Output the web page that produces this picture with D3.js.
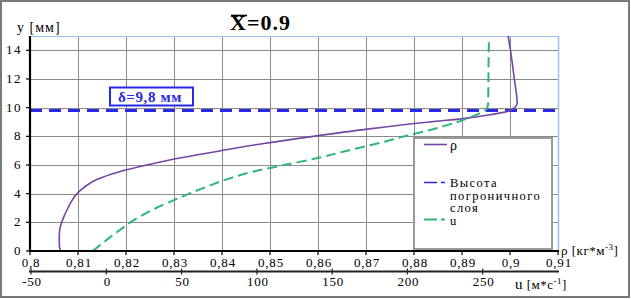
<!DOCTYPE html>
<html>
<head>
<meta charset="utf-8">
<script src="https://cdn.jsdelivr.net/npm/d3@7"></script>
<style>
  html, body { margin: 0; padding: 0; background: #fff; font-family: "Liberation Serif", "DejaVu Serif", serif; }
  svg { display: block; }
  svg text { font-family: "Liberation Serif", "DejaVu Serif", serif !important; }
</style>
</head>
<body>
<svg id="chart" width="631" height="299"></svg>
<script>
// ---- data ----
const rhoY    = [0, 0.5, 1.0, 1.5, 2.0, 2.5, 3.0, 3.5, 4.0, 4.5, 5.0, 5.5, 6.0, 6.5, 7.0, 7.5, 8.0, 8.5, 9.0, 9.25, 9.5, 9.8, 10.3, 12, 14, 15];
const rhoVals = [0.8063, 0.8061, 0.8061, 0.8062, 0.8066, 0.8072, 0.8079, 0.8087, 0.8098, 0.8115, 0.8140, 0.8183, 0.8243, 0.8315, 0.8398, 0.8487, 0.8590, 0.8702, 0.8832, 0.8906, 0.8958, 0.9000, 0.9015, 0.9009, 0.9001, 0.8996];
const uY      = [0, 0.5, 1.0, 1.5, 2.0, 2.5, 3.0, 3.55, 4.0, 4.5, 5.0, 5.5, 6.0, 6.5, 7.0, 7.5, 8.0, 8.5, 9.0, 9.3, 9.6, 9.8, 10.0, 10.3, 12, 14, 14.8];
const uVals   = [-9, -3, 3, 9.5, 16, 24, 33, 45, 55, 67, 80, 96, 118, 141, 160, 180, 198, 217, 233, 241, 248, 251.5, 253, 253.6, 253.8, 254, 254.2];
const deltaValue = 9.8;
const yTicks   = [0, 2, 4, 6, 8, 10, 12, 14];
const rhoTicks = [0.8, 0.81, 0.82, 0.83, 0.84, 0.85, 0.86, 0.87, 0.88, 0.89, 0.9, 0.91];
const uTicks   = [-50, 0, 50, 100, 150, 200, 250];
const legendItems = [
  { key: "rho",   lines: ["ρ"] },
  { key: "delta", lines: ["Высота", "погроничного", "слоя"] },
  { key: "u",     lines: ["u"] }
];

// ---- layout ----
const FONT = "'Liberation Serif', 'DejaVu Serif', serif";
const svg = d3.select("#chart");
const L = 30, R = 558, T = 36, B = 251;
const x = d3.scaleLinear().domain([0.8, 0.91]).range([L, R]);
const y = d3.scaleLinear().domain([0, 15]).range([B, T]);
const xu = d3.scaleLinear().domain([-50, 300]).range([31, R]);

const purple = "#7346A6", green = "#2FB57A", blue = "#2A2AE6";

// outer frame
svg.append("rect").attr("x", 1).attr("y", 1).attr("width", 628).attr("height", 296)
  .attr("fill", "#fff").attr("stroke", "#7a7a7a").attr("stroke-width", 2);

// grid
const grid = svg.append("g");
grid.selectAll("line.v").data(rhoTicks.filter(d => d > 0.8 && d < 0.905)).join("line")
  .attr("x1", d => Math.round(x(d)) + 0.5).attr("x2", d => Math.round(x(d)) + 0.5)
  .attr("y1", T).attr("y2", B).attr("stroke", "#8a8a8a").attr("stroke-width", 1);
grid.selectAll("line.h").data(yTicks.filter(d => d > 0)).join("line")
  .attr("y1", d => Math.round(y(d)) + 0.5).attr("y2", d => Math.round(y(d)) + 0.5)
  .attr("x1", L).attr("x2", R).attr("stroke", "#8a8a8a").attr("stroke-width", 1);
// light blue top/right border
svg.append("line").attr("x1", L).attr("x2", R + 1).attr("y1", y(15) + 0.5).attr("y2", y(15) + 0.5)
  .attr("stroke", "#9cc2e8").attr("stroke-width", 1);
svg.append("line").attr("x1", x(0.91) + 0.5).attr("x2", x(0.91) + 0.5).attr("y1", T).attr("y2", B)
  .attr("stroke", "#9cc2e8").attr("stroke-width", 1.5);

// legend box
const lg = svg.append("g");
lg.append("rect").attr("x", x(0.88)).attr("y", 138).attr("width", 552 - x(0.88)).attr("height", 111)
  .attr("fill", "#fff").attr("stroke", "#9a9a9a").attr("stroke-width", 2);

// delta line
svg.append("line").attr("x1", L).attr("x2", R + 2).attr("y1", y(deltaValue)).attr("y2", y(deltaValue))
  .attr("stroke", blue).attr("stroke-width", 3).attr("stroke-dasharray", "12,7");

// curves
const rhoLine = d3.line().x(d => x(d[0])).y(d => y(d[1])).curve(d3.curveMonotoneY);
svg.append("path").datum(rhoVals.map((v, i) => [v, rhoY[i]]))
  .attr("d", rhoLine).attr("fill", "none").attr("stroke", purple).attr("stroke-width", 1.6);
const uLine = d3.line().x(d => xu(d[0])).y(d => y(d[1])).curve(d3.curveMonotoneY);
svg.append("path").datum(uVals.map((v, i) => [v, uY[i]]))
  .attr("d", uLine).attr("fill", "none").attr("stroke", green).attr("stroke-width", 2)
  .attr("stroke-dasharray", "10,5");

// axes lines
svg.append("line").attr("x1", L).attr("x2", L).attr("y1", T).attr("y2", B + 1)
  .attr("stroke", "#000").attr("stroke-width", 2.2);
svg.append("line").attr("x1", L - 1).attr("x2", R + 1).attr("y1", B).attr("y2", B)
  .attr("stroke", "#000").attr("stroke-width", 2.2);

// y ticks & labels
const yAx = svg.append("g");
yAx.selectAll("line").data(yTicks).join("line")
  .attr("x1", L - 4).attr("x2", L).attr("y1", d => y(d)).attr("y2", d => y(d))
  .attr("stroke", "#000").attr("stroke-width", 1.2);
yAx.selectAll("text").data(yTicks).join("text")
  .attr("x", 22).attr("y", d => y(d) + 4).attr("text-anchor", "end")
  .attr("font-size", 13).attr("letter-spacing", 1.5).text(d => d);

// rho ticks & labels
const xAx = svg.append("g");
xAx.selectAll("line").data(rhoTicks).join("line")
  .attr("x1", d => x(d)).attr("x2", d => x(d)).attr("y1", B).attr("y2", B + 4)
  .attr("stroke", "#000").attr("stroke-width", 1.2);
xAx.selectAll("text").data(rhoTicks).join("text")
  .attr("x", d => x(d) + 1).attr("y", 267).attr("text-anchor", "middle")
  .attr("font-size", 13).attr("letter-spacing", 0.8)
  .text(d => d3.format("~g")(d).replace(".", ","));

// u axis
const uy = 271.5;
svg.append("line").attr("x1", 29).attr("x2", R + 1).attr("y1", uy).attr("y2", uy)
  .attr("stroke", "#222").attr("stroke-width", 1.8);
const uAx = svg.append("g");
uAx.selectAll("line").data(uTicks).join("line")
  .attr("x1", d => xu(d)).attr("x2", d => xu(d)).attr("y1", uy - 3).attr("y2", uy + 3)
  .attr("stroke", "#222").attr("stroke-width", 1.2);
uAx.selectAll("text").data(uTicks).join("text")
  .attr("x", d => xu(d) + 1).attr("y", 286).attr("text-anchor", "middle")
  .attr("font-size", 13).attr("letter-spacing", 0.8).text(d => d);

// axis titles
svg.append("text").attr("x", 17).attr("y", 32).attr("font-size", 14).attr("letter-spacing", 1).text("y [мм]");
const rt = svg.append("text").attr("x", 561).attr("y", 255).attr("font-size", 13).attr("letter-spacing", 0.5);
rt.append("tspan").text("ρ [кг*м");
rt.append("tspan").attr("dy", -5).attr("font-size", 9).text("-3");
rt.append("tspan").attr("dy", 5).text("]");
const ut = svg.append("text").attr("x", 515).attr("y", 289).attr("font-size", 13).attr("letter-spacing", 0.5);
ut.append("tspan").attr("font-size", 15).text("u");
ut.append("tspan").text(" [м*с");
ut.append("tspan").attr("dy", -5).attr("font-size", 9).text("-1");
ut.append("tspan").attr("dy", 5).text("]");

// title X̄=0.9
svg.append("text").attr("x", 230).attr("y", 30).attr("font-size", 22).attr("font-weight", "bold")
  .attr("letter-spacing", 1).text("X=0.9");
svg.append("line").attr("x1", 231).attr("x2", 247).attr("y1", 15.5).attr("y2", 15.5)
  .attr("stroke", "#000").attr("stroke-width", 1.6);

// delta label box
svg.append("rect").attr("x", 110).attr("y", 87.5).attr("width", 83).attr("height", 18)
  .attr("fill", "#fff").attr("stroke", blue).attr("stroke-width", 2);
svg.append("text").attr("x", 150).attr("y", 101.5).attr("text-anchor", "middle")
  .attr("font-size", 15).attr("font-weight", "bold").attr("fill", blue).attr("letter-spacing", 0.6)
  .text("δ=" + String(deltaValue).replace(".", ",") + " мм");

// legend entries
const styles = {
  rho:   { stroke: purple, dash: null, w: 1.6, ly: 144.5 },
  delta: { stroke: blue,   dash: "13,4,4", w: 1.6, ly: 182.5 },
  u:     { stroke: green,  dash: "13,4,4", w: 1.8, ly: 219.5 }
};
const baseY = { rho: 150, delta: 187, u: 224.5 };
legendItems.forEach(it => {
  const s = styles[it.key];
  lg.append("line").attr("x1", 424).attr("x2", 447).attr("y1", s.ly).attr("y2", s.ly)
    .attr("stroke", s.stroke).attr("stroke-width", s.w).attr("stroke-dasharray", s.dash);
  const t = lg.append("text").attr("x", 450).attr("y", baseY[it.key]).attr("font-size", it.key === "rho" ? 14 : 12.5)
    .attr("letter-spacing", 1.4);
  it.lines.forEach((ln, i) => t.append("tspan").attr("x", 450).attr("dy", i === 0 ? 0 : 12.5).text(ln));
});

svg.selectAll("text").style("font-family", FONT);
</script>
</body>
</html>
